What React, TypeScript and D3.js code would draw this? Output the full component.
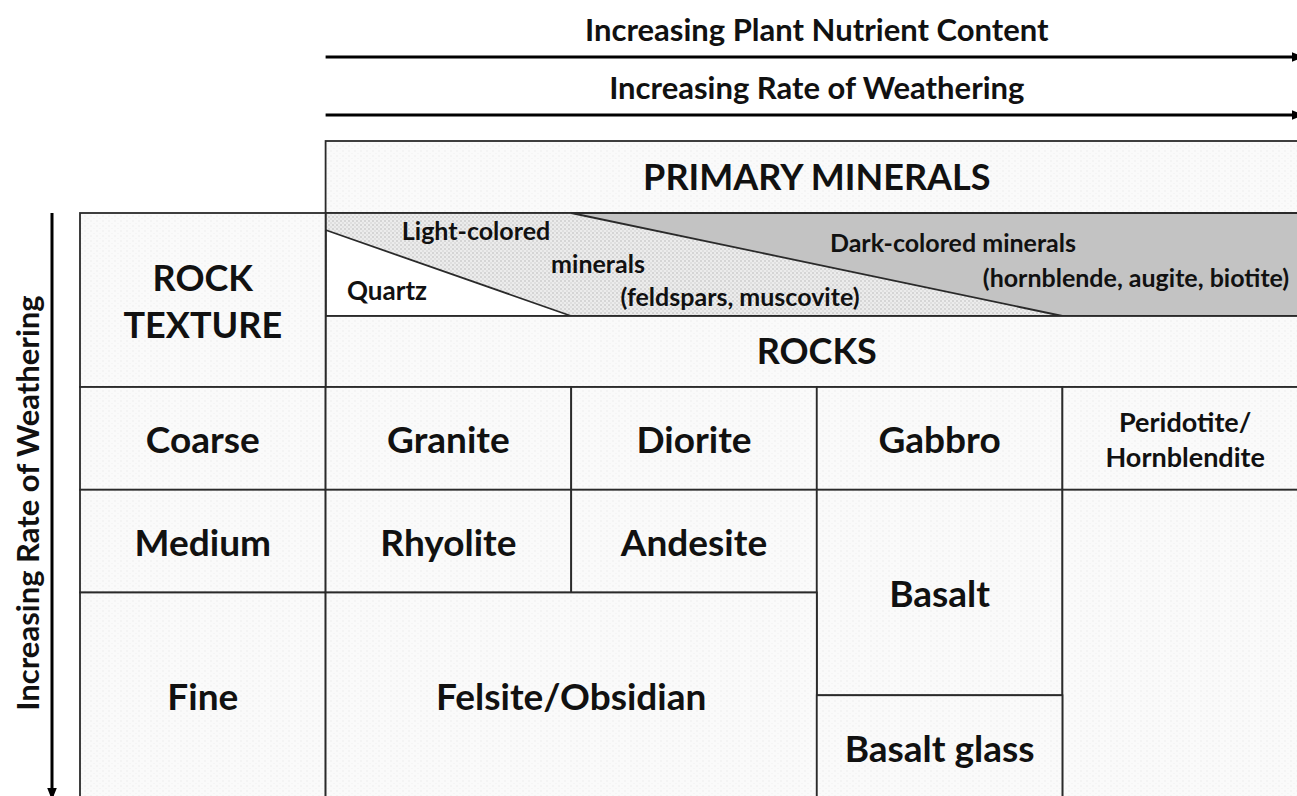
import React, { useRef, useEffect } from "react";
import * as d3 from "d3";

const W = 1297;
const H = 796;

// headings
const topArrows = ["Increasing Plant Nutrient Content", "Increasing Rate of Weathering"];
const sideArrow = "Increasing Rate of Weathering";
const headerTitle = "PRIMARY MINERALS";
const rocksTitle = "ROCKS";
const textureTitle = ["ROCK", "TEXTURE"];

// grid keys
const columns = ["texture", "felsic", "intermediate", "mafic", "ultramafic"];
const rows = ["coarse", "medium", "fineA", "fineB"];

// texture column cells
const textureCells = [
  { label: ["Coarse"], row: 0, rowSpan: 1 },
  { label: ["Medium"], row: 1, rowSpan: 1 },
  { label: ["Fine"], row: 2, rowSpan: 2 },
];

// rock cells
const rockCells = [
  { label: ["Granite"], col: 1, row: 0, colSpan: 1, rowSpan: 1 },
  { label: ["Diorite"], col: 2, row: 0, colSpan: 1, rowSpan: 1 },
  { label: ["Gabbro"], col: 3, row: 0, colSpan: 1, rowSpan: 1 },
  { label: ["Peridotite/", "Hornblendite"], col: 4, row: 0, colSpan: 1, rowSpan: 1 },
  { label: ["Rhyolite"], col: 1, row: 1, colSpan: 1, rowSpan: 1 },
  { label: ["Andesite"], col: 2, row: 1, colSpan: 1, rowSpan: 1 },
  { label: ["Basalt"], col: 3, row: 1, colSpan: 1, rowSpan: 2 },
  { label: [], col: 4, row: 1, colSpan: 1, rowSpan: 3 },
  { label: ["Felsite/Obsidian"], col: 1, row: 2, colSpan: 2, rowSpan: 2 },
  { label: ["Basalt glass"], col: 3, row: 3, colSpan: 1, rowSpan: 1 },
];

// mineral wedge labels
const quartzLabel = "Quartz";
const lightLabel = ["Light-colored", "minerals", "(feldspars, muscovite)"];
const darkLabel = ["Dark-colored minerals", "(hornblende, augite, biotite)"];

const FONT = "Lato, 'Open Sans', sans-serif";

export default function App() {
  const svgRef = useRef<SVGSVGElement>(null);

  useEffect(() => {
    const svg = d3.select(svgRef.current);
    svg.selectAll("*").remove();

    const x = d3.scaleBand().domain(columns).range([80, 1308]);
    const y = d3.scaleBand().domain(rows).range([387, 798]);
    const bw = x.bandwidth();
    const bh = y.bandwidth();
    const colX = (i: number) => x(columns[i]) as number;
    const rowY = (i: number) => y(rows[i]) as number;

    const headTop = 141;
    const minTop = 213;
    const minBot = 316;
    const rocksBot = 387;
    const left = colX(1);
    const right = 1308;
    const midX = colX(3); // header text centred on the mafic column edge

    const defs = svg.append("defs");
    // faint paper texture
    const paper = defs.append("pattern").attr("id", "paper").attr("width", 6).attr("height", 5)
      .attr("patternUnits", "userSpaceOnUse");
    paper.append("rect").attr("width", 6).attr("height", 5).attr("fill", "#fafafa");
    paper.append("circle").attr("cx", 1).attr("cy", 1).attr("r", 0.7).attr("fill", "#ececec");
    paper.append("circle").attr("cx", 4).attr("cy", 3.5).attr("r", 0.6).attr("fill", "#efefef");

    // stipple for light-colored minerals
    const stip = defs.append("pattern").attr("id", "stipple").attr("width", 4).attr("height", 4)
      .attr("patternUnits", "userSpaceOnUse");
    stip.append("rect").attr("width", 4).attr("height", 4).attr("fill", "#ececec");
    stip.append("circle").attr("cx", 1).attr("cy", 1).attr("r", 0.8).attr("fill", "#b8b8b8");
    stip.append("circle").attr("cx", 3).attr("cy", 3).attr("r", 0.7).attr("fill", "#c8c8c8");

    defs.append("marker").attr("id", "arrow").attr("viewBox", "0 0 10 10").attr("refX", 10).attr("refY", 5)
      .attr("markerWidth", 4).attr("markerHeight", 4).attr("orient", "auto")
      .append("path").attr("d", "M0,1 L10,5 L0,9 Z").attr("fill", "#000");

    const stroke = "#2a2a2a";
    const sw = 1.8;

    const label = (tx: string, px: number, cy: number, fs: number) =>
      svg.append("text").attr("x", px).attr("y", cy + fs * 0.35).attr("text-anchor", "middle")
        .attr("font-family", FONT).attr("font-weight", 700).attr("font-size", fs).attr("fill", "#111").text(tx);

    // top arrows
    const arrowY = [57, 115];
    topArrows.forEach((t, i) => {
      label(t, midX, arrowY[i] - 27, 31);
      svg.append("line").attr("x1", left).attr("x2", 1304).attr("y1", arrowY[i]).attr("y2", arrowY[i])
        .attr("stroke", "#000").attr("stroke-width", 3).attr("marker-end", "url(#arrow)");
    });

    // primary minerals header
    svg.append("rect").attr("x", left).attr("y", headTop).attr("width", right - left).attr("height", minTop - headTop)
      .attr("fill", "url(#paper)").attr("stroke", stroke).attr("stroke-width", sw);
    label(headerTitle, midX, (headTop + minTop) / 2, 36);

    // mineral strip
    const line = d3.line();
    const qTop = minTop + 17;
    svg.append("rect").attr("x", left).attr("y", minTop).attr("width", right - left).attr("height", minBot - minTop)
      .attr("fill", "url(#stipple)");
    svg.append("path").attr("d", line([[left, qTop], [colX(2), minBot], [left, minBot]]) + "Z")
      .attr("fill", "#fff").attr("stroke", stroke).attr("stroke-width", sw);
    svg.append("path").attr("d", line([[colX(2), minTop], [right, minTop], [right, minBot], [colX(4), minBot]]) + "Z")
      .attr("fill", "#c3c3c3").attr("stroke", stroke).attr("stroke-width", sw);
    svg.append("rect").attr("x", left).attr("y", minTop).attr("width", right - left).attr("height", minBot - minTop)
      .attr("fill", "none").attr("stroke", stroke).attr("stroke-width", sw);

    label(lightLabel[0], 476, 231, 25);
    label(lightLabel[1], 598, 264, 25);
    label(lightLabel[2], 740, 297, 25);
    label(quartzLabel, 387, 291, 26);
    label(darkLabel[0], 953, 243, 25);
    label(darkLabel[1], 1136, 278, 25);

    // rocks header
    svg.append("rect").attr("x", left).attr("y", minBot).attr("width", right - left).attr("height", rocksBot - minBot)
      .attr("fill", "url(#paper)").attr("stroke", stroke).attr("stroke-width", sw);
    label(rocksTitle, midX, (minBot + rocksBot) / 2, 36);

    // rock texture header
    svg.append("rect").attr("x", colX(0)).attr("y", minTop).attr("width", bw).attr("height", rocksBot - minTop)
      .attr("fill", "url(#paper)").attr("stroke", stroke).attr("stroke-width", sw);
    textureTitle.forEach((t, i) => label(t, colX(0) + bw / 2, 278 + i * 47, 36));

    const drawCell = (lines: string[], cx: number, cy: number, cw: number, ch: number) => {
      svg.append("rect").attr("x", cx).attr("y", cy).attr("width", cw).attr("height", ch)
        .attr("fill", "url(#paper)").attr("stroke", stroke).attr("stroke-width", sw);
      const lh = 35;
      lines.forEach((t, i) => {
        const fs = lines.length > 1 ? 27 : 37;
        label(t, cx + cw / 2, cy + ch / 2 + 2 + (i - (lines.length - 1) / 2) * lh, fs);
      });
    };

    textureCells.forEach((c) => drawCell(c.label, colX(0), rowY(c.row), bw, bh * c.rowSpan));
    rockCells.forEach((c) => drawCell(c.label, colX(c.col), rowY(c.row), bw * c.colSpan, bh * c.rowSpan));

    // side arrow
    svg.append("line").attr("x1", 52).attr("x2", 52).attr("y1", minTop).attr("y2", 800)
      .attr("stroke", "#000").attr("stroke-width", 3).attr("marker-end", "url(#arrow)");
    svg.append("text").attr("transform", `translate(${28 + 31 * 0.35},503) rotate(-90)`).attr("text-anchor", "middle")
      .attr("font-family", FONT).attr("font-weight", 700).attr("font-size", 31).attr("fill", "#111").text(sideArrow);
  }, []);

  return (
    <svg ref={svgRef} width={W} height={H} viewBox={`0 0 ${W} ${H}`}
      style={{ position: "absolute", left: 0, top: 0, display: "block", background: "#fff" }} />
  );
}
